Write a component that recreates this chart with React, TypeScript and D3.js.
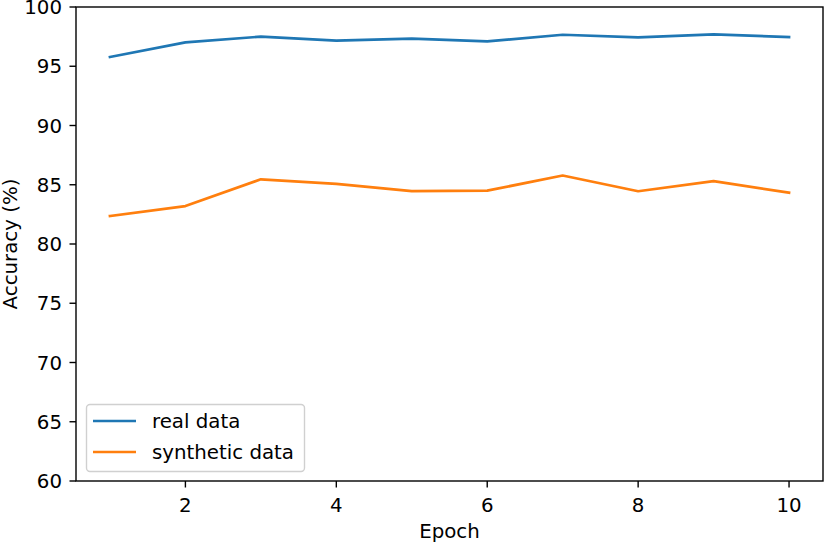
import React, { useEffect, useRef } from 'react';
import * as d3 from 'd3';

const epochs = [1, 2, 3, 4, 5, 6, 7, 8, 9, 10];
const realData = [95.78, 97.02, 97.5, 97.16, 97.33, 97.1, 97.66, 97.44, 97.69, 97.47];
const syntheticData = [82.36, 83.2, 85.46, 85.08, 84.46, 84.5, 85.78, 84.45, 85.3, 84.33];
const xTicks = [2, 4, 6, 8, 10];
const yTicks = [60, 65, 70, 75, 80, 85, 90, 95, 100];

const series = [
  { label: 'real data', values: realData, color: '#1f77b4' },
  { label: 'synthetic data', values: syntheticData, color: '#ff7f0e' },
];

const App: React.FC = () => {
  const svgRef = useRef<SVGSVGElement>(null);

  useEffect(() => {
    if (!svgRef.current) return;
    const svg = d3.select(svgRef.current);
    svg.selectAll('*').remove();

    const width = 825;
    const height = 546;
    const left = 76;
    const right = 823;
    const top = 7;
    const bottom = 481;
    const font = 'DejaVu Sans, sans-serif';
    const fs = 19.8;

    const x = d3.scaleLinear().domain([0.55, 10.45]).range([left, right]);
    const y = d3.scaleLinear().domain([60, 100]).range([bottom, top]);

    svg.append('rect').attr('width', width).attr('height', height).attr('fill', '#fff');

    const line = d3.line<number>()
      .x((_, i) => x(epochs[i]))
      .y(d => y(d));

    const plot = svg.append('g');
    plot.append('clipPath').attr('id', 'clip')
      .append('rect').attr('x', left).attr('y', top).attr('width', right - left).attr('height', bottom - top);

    series.forEach(s => {
      plot.append('path')
        .datum(s.values)
        .attr('d', line)
        .attr('fill', 'none')
        .attr('stroke', s.color)
        .attr('stroke-width', 2.7)
        .attr('stroke-linejoin', 'round')
        .attr('stroke-linecap', 'square')
        .attr('clip-path', 'url(#clip)');
    });

    // Frame
    svg.append('rect')
      .attr('x', left).attr('y', top)
      .attr('width', right - left).attr('height', bottom - top)
      .attr('fill', 'none').attr('stroke', '#000').attr('stroke-width', 1.4);

    // Y ticks
    yTicks.forEach(t => {
      svg.append('line')
        .attr('x1', left - 6.5).attr('x2', left)
        .attr('y1', y(t)).attr('y2', y(t))
        .attr('stroke', '#000').attr('stroke-width', 1.4);
      svg.append('text')
        .attr('x', left - 14).attr('y', y(t))
        .attr('dy', '0.36em')
        .attr('text-anchor', 'end')
        .attr('font-family', font).attr('font-size', fs)
        .attr('fill', '#000')
        .text(t);
    });

    // X ticks
    xTicks.forEach(t => {
      svg.append('line')
        .attr('x1', x(t)).attr('x2', x(t))
        .attr('y1', bottom).attr('y2', bottom + 6.5)
        .attr('stroke', '#000').attr('stroke-width', 1.4);
      svg.append('text')
        .attr('x', x(t)).attr('y', 512)
        .attr('text-anchor', 'middle')
        .attr('font-family', font).attr('font-size', fs)
        .attr('fill', '#000')
        .text(t);
    });

    // Axis labels
    svg.append('text')
      .attr('x', (left + right) / 2).attr('y', 538)
      .attr('text-anchor', 'middle')
      .attr('font-family', font).attr('font-size', fs)
      .text('Epoch');

    svg.append('text')
      .attr('transform', `translate(17, ${(top + bottom) / 2}) rotate(-90)`)
      .attr('text-anchor', 'middle')
      .attr('font-family', font).attr('font-size', fs)
      .text('Accuracy (%)');

    // Legend
    const legend = svg.append('g');
    legend.append('rect')
      .attr('x', 86.5).attr('y', 404.5)
      .attr('width', 218).attr('height', 67)
      .attr('rx', 3.5)
      .attr('fill', '#fff').attr('fill-opacity', 0.8)
      .attr('stroke', '#d0d0d0').attr('stroke-width', 1.4);

    series.forEach((s, i) => {
      const cy = 421 + i * 31;
      legend.append('line')
        .attr('x1', 93).attr('x2', 136)
        .attr('y1', cy).attr('y2', cy)
        .attr('stroke', s.color).attr('stroke-width', 2.7);
      legend.append('text')
        .attr('x', 152).attr('y', cy)
        .attr('dy', '0.36em')
        .attr('font-family', font).attr('font-size', fs)
        .attr('fill', '#000')
        .text(s.label);
    });
  }, []);

  return (
    <svg
      ref={svgRef}
      width={825}
      height={546}
      style={{ position: 'absolute', left: 0, top: 0 }}
    />
  );
};

export default App;
